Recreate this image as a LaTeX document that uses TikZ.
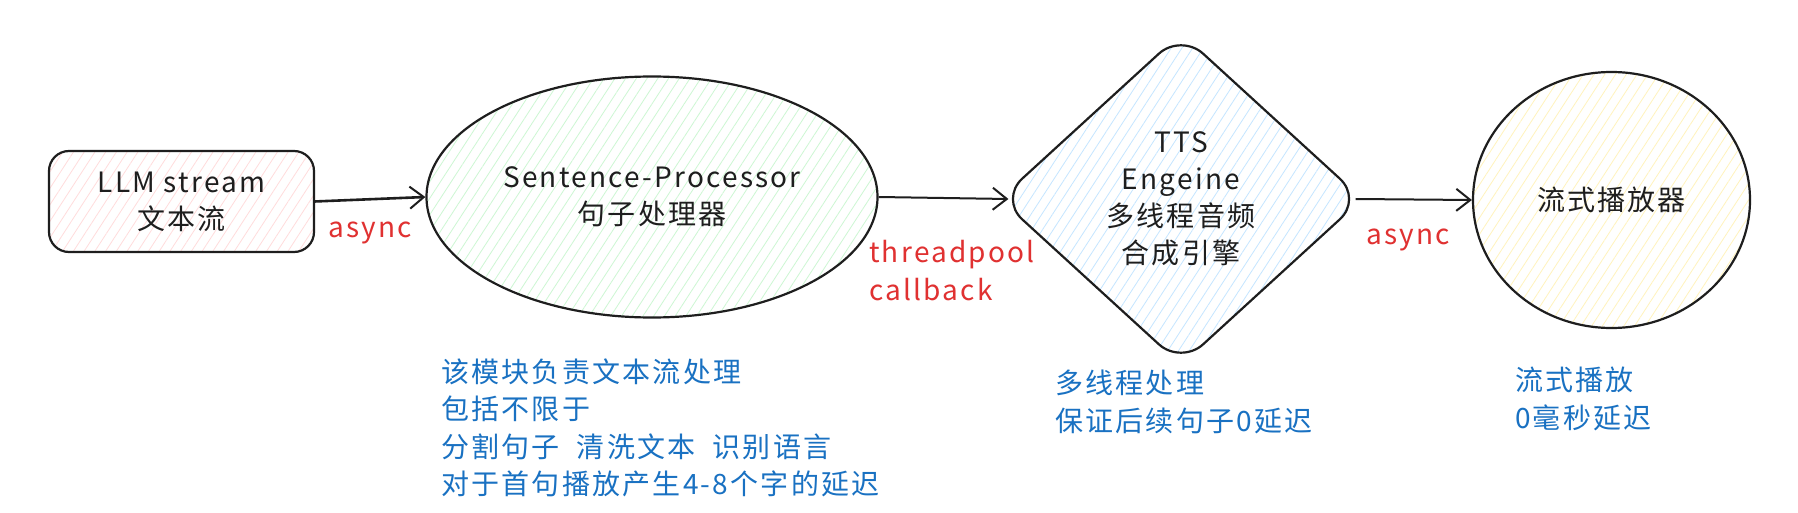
\documentclass[tikz,border=0pt]{standalone}
\usepackage{fontspec}
\setmainfont[LetterSpace=8]{Noto Sans CJK SC}
\usetikzlibrary{shapes.geometric,arrows.meta,patterns.meta}
\definecolor{ink}{HTML}{1E1E1E}
\definecolor{redtxt}{HTML}{E03131}
\definecolor{bluetxt}{HTML}{1971C2}
\definecolor{hpink}{HTML}{FFC9C9}
\definecolor{hgreen}{HTML}{B2F2BB}
\definecolor{hblue}{HTML}{A5D8FF}
\definecolor{hyellow}{HTML}{FFEC99}
\tikzset{
  shapebase/.style={draw=ink, line width=2.2pt, align=center, inner sep=0pt,
    font=\fontsize{28}{37}\selectfont, text=ink},
  hatch/.style={pattern={Lines[angle=57,distance=9pt,line width=0.8pt]}, pattern color=#1!65},
  conn/.style={draw=ink, line width=2pt, -{Straight Barb[length=14pt,width=22pt,line width=2pt]}},
  redlbl/.style={text=redtxt, anchor=west, inner sep=0pt, align=left,
    font=\fontsize{28}{38}\selectfont},
  note/.style={text=bluetxt, align=left, anchor=west, inner sep=0pt,
    font=\fontsize{28}{37.5}\selectfont},
}
\begin{document}
\begin{tikzpicture}[x=1pt,y=-1pt]
\fill[white] (0,0) rectangle (1798,513);
\useasboundingbox (0,0) rectangle (1798,513);

\node[shapebase, rectangle, rounded corners=20pt, minimum width=265pt, minimum height=101pt, hatch=hpink] (llm) at (181.5,201.5) {LLM stream\\文本流};
\node[shapebase, ellipse, minimum width=451pt, minimum height=241pt, hatch=hgreen] (sp) at (652,197) {Sentence-Processor\\句子处理器};
\node[shapebase, diamond, rounded corners=30pt, minimum width=363pt, minimum height=332pt, hatch=hblue] (tts) at (1181,199) {TTS\\Engeine\\多线程音频\\合成引擎};
\node[shapebase, ellipse, minimum width=277pt, minimum height=256pt, hatch=hyellow] (player) at (1611.5,200) {流式播放器};

\draw[conn, line width=2.6pt] (llm.east) -- (sp.west);
\draw[conn] (sp.east) -- ([xshift=10pt]tts.west);
\draw[conn] ([xshift=-8pt]tts.east) -- (player.west);

\node[redlbl] (l1) at (328,233) {async};
\node[redlbl] (l2) at (869,271) {threadpool\\callback};
\node[redlbl] (l3) at (1366,240) {async};

\node[note] (n1) at (441,428) {该模块负责文本流处理\\包括不限于\\分割句子\ \ 清洗文本\ \ 识别语言\\对于首句播放产生4-8个字的延迟};
\node[note] (n2) at (1055,402) {多线程处理\\保证后续句子0延迟};
\node[note] (n3) at (1515,399) {流式播放\\0毫秒延迟};
\end{tikzpicture}
\end{document}
